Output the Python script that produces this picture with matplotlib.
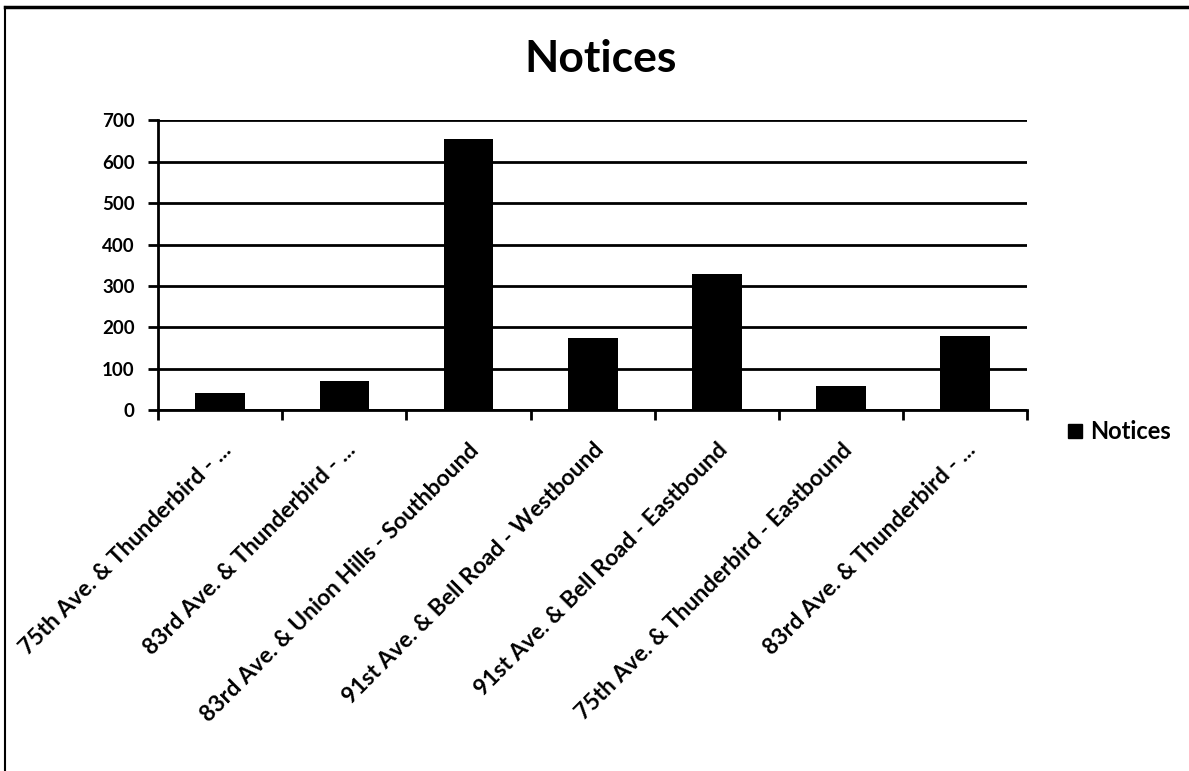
import matplotlib.pyplot as plt
from matplotlib.lines import Line2D

# Data
locations = [
    "75th Ave. & Thunderbird - ...",
    "83rd Ave. & Thunderbird - ...",
    "83rd Ave. & Union Hills - Southbound",
    "91st Ave. & Bell Road - Westbound",
    "91st Ave. & Bell Road - Eastbound",
    "75th Ave. & Thunderbird - Eastbound",
    "83rd Ave. & Thunderbird - ...",
]
notices = [42, 70, 654, 175, 330, 59, 179]
y_ticks = [0, 100, 200, 300, 400, 500, 600, 700]

plt.rcParams['font.family'] = ['Lato', 'DejaVu Sans']

fig = plt.figure(figsize=(11.89, 7.71), dpi=100)
ax = fig.add_axes([0.133, 0.468, 0.731, 0.376])

x = list(range(len(locations)))
ax.bar(x, notices, width=0.4, color='black', zorder=3)

ax.set_xlim(-0.5, len(locations) - 0.5)
ax.set_ylim(0, 700)
ax.set_yticks(y_ticks)
ax.set_yticklabels([str(v) for v in y_ticks], fontsize=13.5, fontweight='bold')
ax.yaxis.grid(True, color='black', linewidth=2, zorder=0)

# category labels at centres, tick marks at boundaries
ax.set_xticks(x)
ax.set_xticklabels(locations, rotation=45, ha='right', va='top',
                   rotation_mode='anchor', fontsize=16.5, fontweight='bold')
ax.tick_params(axis='x', which='major', length=0, pad=21)
ax.set_xticks([i - 0.5 for i in range(len(locations) + 1)], minor=True)
ax.tick_params(axis='x', which='minor', length=7, width=2, direction='out')
ax.tick_params(axis='y', length=7, width=2, direction='out', pad=10)

for side in ['top', 'right']:
    ax.spines[side].set_visible(False)
ax.spines['left'].set_linewidth(2)
ax.spines['bottom'].set_linewidth(2)

fig.text(0.505, 0.9235, "Notices", ha='center', va='center',
         fontsize=32, fontweight='bold')

handle = Line2D([], [], marker='s', linestyle='none', color='black', markersize=10)
fig.legend([handle], ["Notices"], loc='center left', bbox_to_anchor=(0.897, 0.44),
           frameon=False, borderpad=0, borderaxespad=0, handletextpad=0.3,
           handlelength=0.7, prop={'size': 17, 'weight': 'bold'})

# outer chart border: only top and left edges show in the scan
fig.add_artist(Line2D([0.004, 0.004], [0.0, 0.991], transform=fig.transFigure,
                      color='black', linewidth=1.5))
fig.add_artist(Line2D([0.004, 1.0], [0.991, 0.991], transform=fig.transFigure,
                      color='black', linewidth=2.5))

fig.savefig("out.png", dpi=100)
